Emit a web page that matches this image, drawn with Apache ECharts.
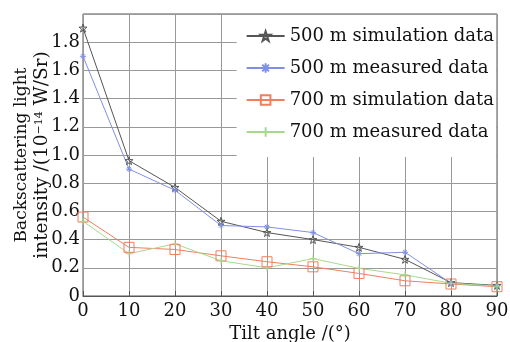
<!DOCTYPE html>
<html>
<head>
<meta charset="utf-8">
<script src="https://cdn.jsdelivr.net/npm/echarts@6/dist/echarts.min.js"></script>
<style>
  html, body { margin: 0; padding: 0; background: #fff; }
  #main { width: 510px; height: 342px; }
</style>
</head>
<body>
<div id="main"></div>
<script>
const angles = ["0", "10", "20", "30", "40", "50", "60", "70", "80", "90"];
const sim500 = [1.9, 0.96, 0.77, 0.53, 0.45, 0.4, 0.345, 0.26, 0.095, 0.075];
const meas500 = [1.7, 0.9, 0.75, 0.5, 0.49, 0.45, 0.3, 0.31, 0.09, 0.07];
const sim700 = [0.56, 0.345, 0.33, 0.285, 0.243, 0.207, 0.16, 0.108, 0.085, 0.066];
const meas700 = [0.53, 0.3, 0.37, 0.25, 0.2, 0.265, 0.196, 0.15, 0.09, 0.07];
const names = [
  "500 m simulation data",
  "500 m measured data",
  "700 m simulation data",
  "700 m measured data",
];

const font = "DejaVu Serif";
const star = "path://M5,0L6.2,3.6L10,3.6L6.9,5.9L8.1,9.5L5,7.3L1.9,9.5L3.1,5.9L0,3.6L3.8,3.6Z";
const asterisk = "path://M0,5L10,5M5,0L5,10M1.5,1.5L8.5,8.5M8.5,1.5L1.5,8.5";
const plus = "path://M0,5L10,5M5,0L5,10";

function makeSeries(name, data, color, symbol, size) {
  return {
    name: name,
    type: "line",
    data: data,
    symbol: symbol,
    symbolSize: size,
    showSymbol: true,
    lineStyle: { color: color, width: 1 },
    itemStyle: { color: "rgba(0,0,0,0)", borderColor: color, borderWidth: 1 },
    emphasis: { disabled: true },
    animation: false,
  };
}

var chart = echarts.init(document.getElementById("main"));
var option = {
  animation: false,
  textStyle: { fontFamily: font },
  grid: {
    left: 83, right: 13, top: 14, bottom: 46,
    outerBoundsMode: "none",
    containLabel: false,
    show: true, borderColor: "#555", borderWidth: 1,
  },
  legend: {
    orient: "vertical",
    right: 14,
    top: 15,
    backgroundColor: "#fff",
    padding: [12, 2, 16, 9],
    itemGap: 14,
    itemWidth: 38,
    itemHeight: 12,
    textStyle: { fontFamily: font, fontSize: 18, color: "#111" },
    data: names,
  },
  xAxis: {
    type: "category",
    data: angles,
    boundaryGap: false,
    name: "Tilt angle /(°)",
    nameLocation: "middle",
    nameGap: 29,
    nameMoveOverlap: false,
    nameTextStyle: { fontFamily: font, fontSize: 18, color: "#111" },
    axisLine: { lineStyle: { color: "#555" } },
    axisTick: { inside: true, length: 5, lineStyle: { color: "#555" } },
    axisLabel: { fontFamily: font, fontSize: 18, color: "#111", margin: 6 },
    splitLine: { show: true, lineStyle: { color: "#999", width: 1 } },
  },
  yAxis: {
    type: "value",
    min: 0,
    max: 2,
    interval: 0.2,
    name: "{a|Backscattering light}\n{b|intensity /(10}{sup|−14}{b| W/Sr)}",
    nameLocation: "middle",
    nameRotate: 90,
    nameGap: 30,
    nameMoveOverlap: false,
    nameTextStyle: {
      rich: {
        a: { fontFamily: font, fontSize: 17, color: "#111", lineHeight: 20 },
        b: { fontFamily: font, fontSize: 18.5, color: "#111", lineHeight: 21 },
        sup: { fontFamily: font, fontSize: 11, color: "#111", lineHeight: 21, padding: [0, 0, 6, 0] },
      },
    },
    axisLine: { lineStyle: { color: "#555" } },
    axisTick: { inside: true, length: 5, lineStyle: { color: "#555" } },
    axisLabel: {
      fontFamily: font, fontSize: 18, color: "#111", margin: 3,
      formatter: function (v) {
        if (v >= 1.99) return "";
        if (v === 0) return "0";
        return v.toFixed(1);
      },
    },
    splitLine: { show: true, lineStyle: { color: "#999", width: 1 } },
  },
  series: [
    makeSeries(names[0], sim500, "#555555", star, 8),
    makeSeries(names[1], meas500, "#7f8fe6", asterisk, 6),
    makeSeries(names[2], sim700, "#f07e5c", "rect", 10),
    makeSeries(names[3], meas700, "#a6d98c", plus, 7),
  ],
};
option && chart.setOption(option);
</script>
</body>
</html>
